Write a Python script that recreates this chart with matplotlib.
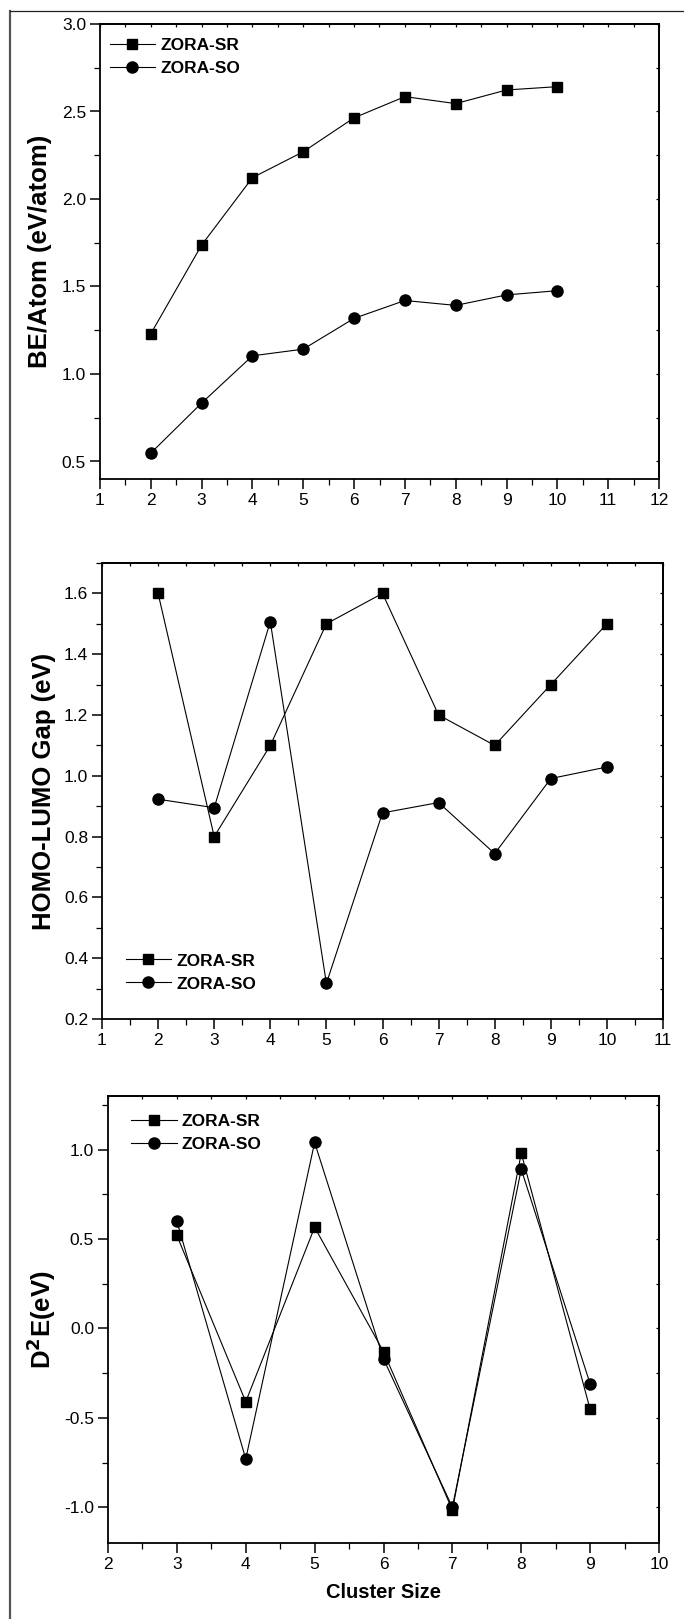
import matplotlib
matplotlib.use('Agg')
import matplotlib.pyplot as plt
from matplotlib.axes import Axes
from matplotlib.lines import Line2D
from matplotlib.ticker import MultipleLocator

plt.rcParams['font.family'] = ['Liberation Sans', 'DejaVu Sans']
plt.rcParams['axes.unicode_minus'] = False

# binding energy per atom
be_size = [2, 3, 4, 5, 6, 7, 8, 9, 10]
be_sr = [1.23, 1.737, 2.122, 2.27, 2.464, 2.585, 2.545, 2.623, 2.642]
be_so = [0.548, 0.834, 1.104, 1.142, 1.318, 1.42, 1.392, 1.452, 1.476]

# HOMO-LUMO gap
gap_size = [2, 3, 4, 5, 6, 7, 8, 9, 10]
gap_sr = [1.6, 0.8, 1.1, 1.5, 1.6, 1.2, 1.1, 1.3, 1.5]
gap_so = [0.923, 0.895, 1.507, 0.317, 0.878, 0.912, 0.744, 0.991, 1.029]

# second order energy difference
d2e_size = [3, 4, 5, 6, 7, 8, 9]
d2e_sr = [0.52, -0.41, 0.566, -0.13, -1.015, 0.98, -0.452]
d2e_so = [0.60, -0.73, 1.04, -0.17, -1.0, 0.89, -0.31]

labels = ['ZORA-SR', 'ZORA-SO']

W, H = 684, 1619


def px_rect(left, top, right, bottom):
    return [left / W, 1 - bottom / H, (right - left) / W, (bottom - top) / H]


def style_axes(ax: Axes, xmaj, xmin, ymaj, ymin):
    ax.xaxis.set_major_locator(MultipleLocator(xmaj))
    ax.xaxis.set_minor_locator(MultipleLocator(xmin))
    ax.yaxis.set_major_locator(MultipleLocator(ymaj))
    ax.yaxis.set_minor_locator(MultipleLocator(ymin))
    ax.tick_params(which='major', direction='out', length=7, width=1.1,
                   labelsize=12.5, pad=3)
    ax.tick_params(which='minor', direction='out', length=4, width=0.9)
    for s in ax.spines.values():
        s.set_linewidth(1.3)

    # small inward ticks on the top and right edges, no labels
    top = ax.secondary_xaxis('top')
    top.xaxis.set_major_locator(MultipleLocator(xmaj))
    top.xaxis.set_minor_locator(MultipleLocator(xmin))
    top.tick_params(which='both', direction='in', length=2.5, width=0.9,
                    labeltop=False, labelbottom=False)
    right = ax.secondary_yaxis('right')
    right.yaxis.set_major_locator(MultipleLocator(ymaj))
    right.yaxis.set_minor_locator(MultipleLocator(ymin))
    right.tick_params(which='both', direction='in', length=2.5, width=0.9,
                      labelright=False, labelleft=False)
    for sec in (top, right):
        for s in sec.spines.values():
            s.set_linewidth(1.3)


def plot_pair(ax: Axes, x, sr, so):
    ax.plot(x, sr, color='black', lw=0.8, marker='s', ms=7.5, mfc='black', mec='black', label=labels[0])
    ax.plot(x, so, color='black', lw=0.8, marker='o', ms=8, mfc='black', mec='black', label=labels[1])


def add_legend(ax: Axes, loc, anchor):
    leg = ax.legend(loc=loc, bbox_to_anchor=anchor, frameon=False, handlelength=2.6,
                    handletextpad=0.3, labelspacing=0.45, borderaxespad=0,
                    prop={'weight': 'bold', 'size': 12.5})
    return leg


fig = plt.figure(figsize=(W / 100, H / 100), dpi=100)

# outer frame (left and top edges only)
fig.add_artist(Line2D([10 / W, 10 / W], [0, 1 - 11 / H], color='#555555', lw=1.6))
fig.add_artist(Line2D([10 / W, 1], [1 - 11 / H, 1 - 11 / H], color='#222222', lw=0.9))

# panel 1
ax1 = fig.add_axes(px_rect(100, 24, 659, 479))
plot_pair(ax1, be_size, be_sr, be_so)
ax1.set_xlim(1, 12)
ax1.set_ylim(0.4, 3.0)
style_axes(ax1, 1, 0.5, 0.5, 0.25)
ax1.set_ylabel('BE/Atom (eV/atom)', fontsize=18.5, fontweight='bold')
ax1.yaxis.set_label_coords(-0.086, 0.5)
add_legend(ax1, 'upper left', (0.005, 0.985))

# panel 2
ax2 = fig.add_axes(px_rect(102, 563, 663, 1019))
plot_pair(ax2, gap_size, gap_sr, gap_so)
ax2.set_xlim(1, 11)
ax2.set_ylim(0.2, 1.7)
style_axes(ax2, 1, 0.5, 0.2, 0.1)
ax2.set_ylabel('HOMO-LUMO Gap (eV)', fontsize=18.5, fontweight='bold')
ax2.yaxis.set_label_coords(-0.082, 0.5)
add_legend(ax2, 'lower left', (0.03, 0.045))

# panel 3
ax3 = fig.add_axes(px_rect(108, 1096, 659, 1543))
plot_pair(ax3, d2e_size, d2e_sr, d2e_so)
ax3.set_xlim(2, 10)
ax3.set_ylim(-1.2, 1.3)
style_axes(ax3, 1, 0.5, 0.5, 0.25)
ax3.set_ylabel(r'D$^{\mathbf{2}}$E(eV)', fontsize=18.5, fontweight='bold')
ax3.yaxis.set_label_coords(-0.091, 0.5)
ax3.set_xlabel('Cluster Size', fontsize=14.5, fontweight='bold')
ax3.xaxis.set_label_coords(0.5, -0.09)
add_legend(ax3, 'upper left', (0.03, 0.975))

fig.savefig('out.png', dpi=100)
